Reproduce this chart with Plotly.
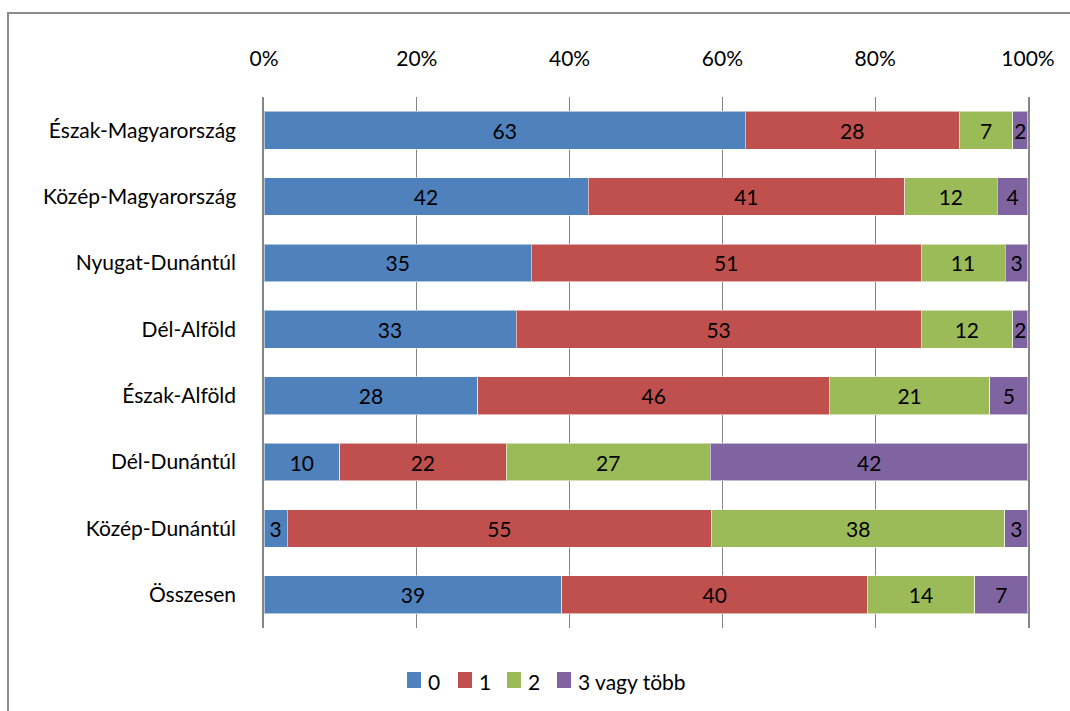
import plotly.graph_objects as go

regions = [
    "Észak-Magyarország",
    "Közép-Magyarország",
    "Nyugat-Dunántúl",
    "Dél-Alföld",
    "Észak-Alföld",
    "Dél-Dunántúl",
    "Közép-Dunántúl",
    "Összesen",
]
series_names = ["0", "1", "2", "3 vagy több"]
vals_0 = [63, 42, 35, 33, 28, 10, 3, 39]
vals_1 = [28, 41, 51, 53, 46, 22, 55, 40]
vals_2 = [7, 12, 11, 12, 21, 27, 38, 14]
vals_3 = [2, 4, 3, 2, 5, 42, 3, 7]
colors = ["#4F81BD", "#C0504D", "#9BBB59", "#8064A2"]
tick_vals = [0, 20, 40, 60, 80, 100]
tick_text = ["0%", "20%", "40%", "60%", "80%", "100%"]

FONT = "Lato"
FS = 21

fig = go.Figure()
for name, vals, col in zip(series_names, [vals_0, vals_1, vals_2, vals_3], colors):
    fig.add_trace(go.Bar(
        y=regions,
        x=vals,
        name=name,
        orientation="h",
        marker=dict(color=col, line=dict(color="rgba(255,255,255,0.55)", width=1)),
        text=[str(v) for v in vals],
        textposition="inside",
        insidetextanchor="middle",
        textfont=dict(family=FONT, size=FS, color="black"),
        cliponaxis=False,
        showlegend=False,
    ))

W, H = 1070, 711
L, R, T, B = 264, 42, 97, 83
pw, ph = W - L - R, H - T - B

def px_x(p):
    return (p - L) / pw

def px_y(p):
    return (H - B - p) / ph

fig.update_layout(
    barmode="stack",
    barnorm="percent",
    bargap=0.43,
    width=W,
    height=H,
    margin=dict(l=L, r=R, t=T, b=B),
    paper_bgcolor="white",
    plot_bgcolor="white",
    font=dict(family=FONT, size=FS, color="black"),
    uniformtext=dict(minsize=FS, mode="show"),
    xaxis=dict(
        side="top",
        range=[0, 100.001],
        tickvals=tick_vals,
        ticktext=tick_text,
        showgrid=True,
        gridcolor="#868686",
        gridwidth=1,
        zeroline=False,
        showline=False,
        ticks="",
        ticklabelstandoff=26,
        tickfont=dict(family=FONT, size=FS, color="black"),
        fixedrange=True,
    ),
    yaxis=dict(
        autorange="reversed",
        showline=True,
        mirror=True,
        linecolor="#868686",
        linewidth=1.5,
        showgrid=False,
        ticks="",
        ticklabelstandoff=22,
        tickfont=dict(family=FONT, size=FS, color="black"),
    ),
    showlegend=False,
)

# compact legend row below the plot: colour key squares with their series names
legend_left = [407, 458, 507, 557]
leg_cy = 680
for name, col, lx in zip(series_names, colors, legend_left):
    fig.add_shape(
        type="rect",
        xref="paper", yref="paper",
        x0=px_x(lx), x1=px_x(lx + 14),
        y0=px_y(leg_cy + 8), y1=px_y(leg_cy - 8),
        fillcolor=col,
        line=dict(width=0),
    )
    fig.add_annotation(
        xref="paper", yref="paper",
        x=px_x(lx + 19), y=px_y(leg_cy + 1),
        xanchor="left", yanchor="middle",
        text=name,
        showarrow=False,
        font=dict(family=FONT, size=FS, color="black"),
    )

# chart-area frame along the top and left edges
fig.add_shape(
    type="path",
    xref="paper", yref="paper",
    path=f"M {px_x(8)} {px_y(720)} L {px_x(8)} {px_y(13)} L {px_x(1080)} {px_y(13)}",
    line=dict(color="#8c8c8c", width=2),
    layer="above",
)

fig.write_html("out.html")
